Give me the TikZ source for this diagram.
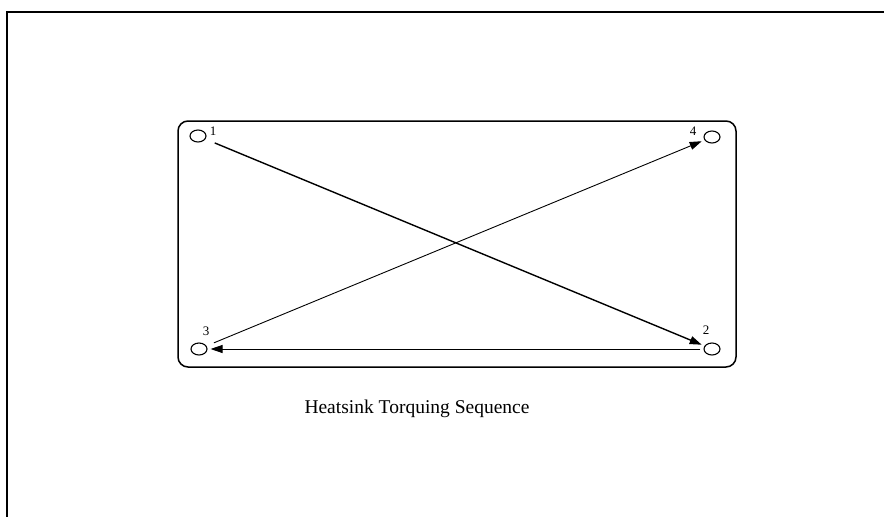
\documentclass[tikz,border=0pt]{standalone}
\usepackage{fontspec}
\setmainfont{Liberation Serif}
\usetikzlibrary{shapes.geometric, arrows.meta, positioning}

\begin{document}
\begin{tikzpicture}[x=1pt, y=-1pt,
    hole/.style = {ellipse, draw=black, line width=1.1pt, inner sep=0pt, minimum width=16pt, minimum height=12pt},
    num/.style = {font=\fontsize{13}{13}\selectfont, inner sep=0pt},
    plate/.style = {draw=black, line width=1.5pt, rounded corners=10pt},
    seq/.style = {draw=black, line width=0.9pt, -{Triangle[length=12pt, width=8pt]}}
]
\useasboundingbox (0,0) rectangle (884,517);

% Page frame
\draw [line width=1.3pt] (7,517) -- (7,12) -- (884,12);

% Heatsink base
\draw [plate] (178,121) rectangle (736,367);

% Mounting holes
\node (h1) [hole] at (198,136) {};
\node (h2) [hole] at (712,349) {};
\node (h3) [hole] at (199,349) {};
\node (h4) [hole] at (712,137) {};

% Hole numbers
\node (n1) [num] at (213,131) {1};
\node (n2) [num] at (706,330) {2};
\node (n3) [num] at (206,331) {3};
\node (n4) [num] at (693,131) {4};

% Torquing order
\draw [seq, line width=1.4pt, shorten <=10pt, shorten >=3pt] (h1) -- (h2);
\draw [seq, shorten <=3pt, shorten >=3pt] (h2.west) -- (h3.east);
\draw [seq, shorten <=8pt, shorten >=3pt] (h3) -- (h4);

% Caption
\node (cap) [font=\fontsize{19.5}{22}\selectfont] at (417,409) {Heatsink Torquing Sequence};

\end{tikzpicture}
\end{document}
